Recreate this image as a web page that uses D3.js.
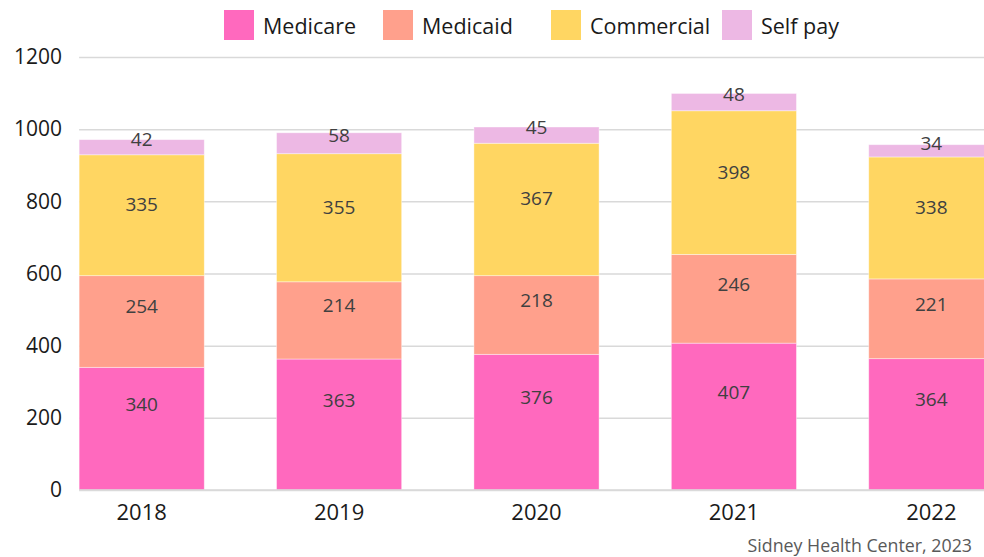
<!DOCTYPE html>
<html>
<head>
<meta charset="utf-8">
<script src="https://cdn.jsdelivr.net/npm/d3@7"></script>
<style>
  body { margin: 0; background: #fff; }
  svg { display: block; font-family: "Open Sans", sans-serif; }
</style>
</head>
<body>
<div id="chart"></div>
<script>
// data
const years = ['2018', '2019', '2020', '2021', '2022'];
const medicare = [340, 363, 376, 407, 364];
const medicaid = [254, 214, 218, 246, 221];
const commercial = [335, 355, 367, 398, 338];
const selfPay = [42, 58, 45, 48, 34];
const seriesNames = ['Medicare', 'Medicaid', 'Commercial', 'Self pay'];
const yTicks = [0, 200, 400, 600, 800, 1000, 1200];

const colors = ['#ff69be', '#ffa08c', '#ffd662', '#edb8e4'];

const width = 984, height = 557;

const rows = years.map((yr, i) => ({
  year: yr,
  'Medicare': medicare[i],
  'Medicaid': medicaid[i],
  'Commercial': commercial[i],
  'Self pay': selfPay[i]
}));

const stacked = d3.stack().keys(seriesNames)(rows);

let x = d3.scaleBand().domain(years).range([43, 1030])
  .paddingInner(0.366).paddingOuter(0.183);
let y = d3.scaleLinear().domain([0, 1200]).range([490, 57]);

let svg = d3.select('#chart').append('svg')
  .attr('width', width)
  .attr('height', height);

// gridlines + y tick labels
const left = x(years[0]);
let yAxis = svg.append('g')
  .attr('transform', `translate(${left},0)`)
  .call(d3.axisLeft(y).tickValues(yTicks).tickSize(-(width - left)).tickPadding(17).tickFormat(d3.format('d')));
yAxis.select('.domain').remove();
yAxis.selectAll('line').attr('stroke', '#d9d9d9').attr('stroke-width', 1.5);
yAxis.selectAll('text').attr('font-size', 21).attr('fill', '#1a1a1a')
  .attr('font-family', '"Open Sans", sans-serif');

// bars
let groups = svg.selectAll('g.series')
  .data(stacked)
  .enter().append('g')
  .attr('class', 'series')
  .attr('fill', (d, i) => colors[i]);

groups.selectAll('rect')
  .data(d => d)
  .enter().append('rect')
  .attr('x', d => x(d.data.year))
  .attr('width', x.bandwidth())
  .attr('y', d => y(d[1]))
  .attr('height', d => y(d[0]) - y(d[1]))
  .attr('stroke', '#ffffff')
  .attr('stroke-opacity', 0.5)
  .attr('stroke-width', 0.8);

// value labels sit a little above the middle of each segment, as in the original
const labelShift = [-25, -15, -11, -8];
groups.selectAll('text')
  .data((d, i) => d.map(v => ({v, key: d.key, idx: i})))
  .enter().append('text')
  .attr('x', d => x(d.v.data.year) + x.bandwidth() / 2)
  .attr('y', d => (y(d.v[0]) + y(d.v[1])) / 2 + labelShift[d.idx])
  .attr('text-anchor', 'middle')
  .attr('dominant-baseline', 'central')
  .attr('font-size', 19)
  .attr('fill', '#404040')
  .text(d => d.v.data[d.key]);

// x axis labels
let xAxis = svg.append('g')
  .attr('transform', 'translate(0,490)')
  .call(d3.axisBottom(x).tickSize(0).tickPadding(14));
xAxis.select('.domain').remove();
xAxis.selectAll('text').attr('font-size', 22).attr('fill', '#1a1a1a')
  .attr('font-family', '"Open Sans", sans-serif');

// baseline
svg.append('line')
  .attr('x1', left).attr('x2', width)
  .attr('y1', y(0)).attr('y2', y(0))
  .attr('stroke', '#d9d9d9').attr('stroke-width', 1.5);

// legend
const legendX = [224, 383, 551, 722];
let legend = svg.selectAll('g.legend')
  .data(seriesNames)
  .enter().append('g')
  .attr('class', 'legend')
  .attr('transform', (d, i) => `translate(${legendX[i]},10)`);
legend.append('rect')
  .attr('width', 30).attr('height', 30)
  .attr('fill', (d, i) => colors[i]);
legend.append('text')
  .attr('x', 39).attr('y', 15)
  .attr('dominant-baseline', 'central')
  .attr('font-size', 21.5)
  .attr('fill', '#1a1a1a')
  .text(d => d);

// source
svg.append('text')
  .attr('x', 972).attr('y', 552)
  .attr('text-anchor', 'end')
  .attr('font-size', 17.8)
  .attr('fill', '#595959')
  .text('Sidney Health Center, 2023');
</script>
</body>
</html>
